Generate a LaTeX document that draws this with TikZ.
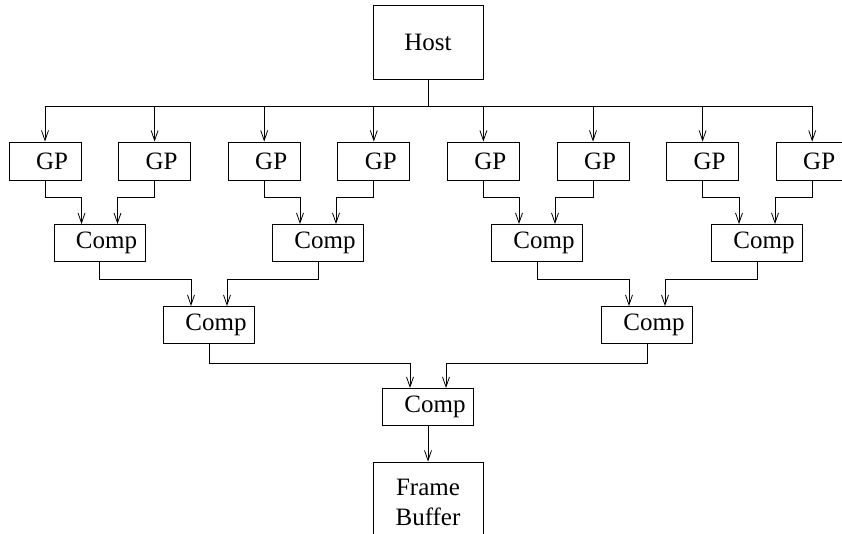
\documentclass[tikz,border=0pt]{standalone}
\usepackage{fontspec}
\setmainfont{Liberation Serif}
\usetikzlibrary{arrows.meta,positioning,calc}
\tikzset{
  >={Straight Barb[length=10pt,width=7pt]},
  box/.style={draw,line width=0.8pt,align=center,inner sep=0pt,
    font=\fontsize{25}{30}\selectfont},
  box shift/.style={execute at begin node={\hspace*{14pt}}},
  gp/.style={box,box shift,minimum width=72pt,minimum height=38pt},
  comp/.style={box,box shift,minimum width=91pt,minimum height=37pt},
  flow/.style={->,line width=0.8pt},
}

\begin{document}
\begin{tikzpicture}[x=1pt,y=1pt]
    \clip (0,0) rectangle (842,-533);
    \node[box,minimum width=110pt,minimum height=74pt] (host) at (428,-42) {Host};
    \coordinate (bus) at (0,-106);
    \foreach \i in {1,...,8} {
      \pgfmathsetmacro{\x}{45+109.6*(\i-1)}
      \node[gp] (gp\i) at (\x,-161) {GP};
    }
    \foreach \i/\x in {1/99.5,2/318,3/537,4/757}
      \node[comp] (ca\i) at (\x,-243) {Comp};
    \node[comp] (cb1) at (209,-325) {Comp};
    \node[comp] (cb2) at (647,-325) {Comp};
    \node[comp] (cc) at (428,-407) {Comp};
    \node[box,minimum width=110pt,minimum height=80pt] (fb) at (428,-502) {Frame\\Buffer};
    % host bus
    \foreach \i in {1,...,8}
      \draw[flow] (host.south) -- (host.south |- bus) -| (gp\i.north);
    % compositing tree
    \foreach \a/\b/\s in {1/1/-18pt,2/1/18pt,3/2/-18pt,4/2/18pt,5/3/-18pt,6/3/18pt,7/4/-18pt,8/4/18pt}
      \draw[flow] (gp\a.south) -- ++(0,-17) -| ([xshift=\s]ca\b.north);
    \foreach \a/\b/\s in {1/1/-18pt,2/1/18pt,3/2/-18pt,4/2/18pt}
      \draw[flow] (ca\a.south) -- ++(0,-17) -| ([xshift=\s]cb\b.north);
    \draw[flow] (cb1.south) -- ++(0,-19) -| ([xshift=-18pt]cc.north);
    \draw[flow] (cb2.south) -- ++(0,-19) -| ([xshift=18pt]cc.north);
    \draw[flow] (cc) -- (fb);
\end{tikzpicture}
\end{document}
